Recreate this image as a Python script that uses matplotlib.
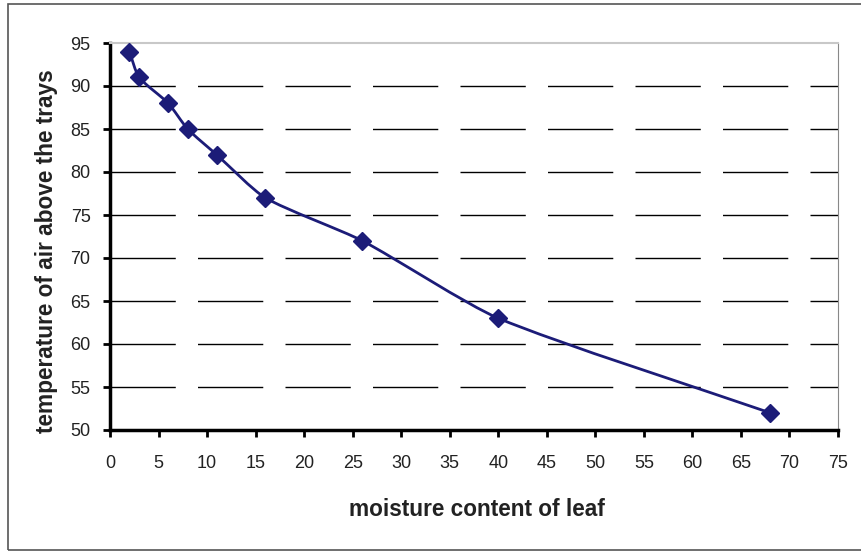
import matplotlib.pyplot as plt
import numpy as np
from matplotlib.path import Path
from matplotlib.patches import PathPatch, Rectangle

plt.rcParams['font.family'] = ['Liberation Sans', 'DejaVu Sans']

moisture = [2, 3, 6, 8, 11, 16, 26, 40, 68]
temperature = [94, 91, 88, 85, 82, 77, 72, 63, 52]
x_ticks = list(range(0, 80, 5))
y_ticks = list(range(50, 100, 5))

line_color = '#1c1c78'


def smooth_path(xs, ys, sx, sy, t=0.22):
    # smoothed line as cubic bezier segments, tangents worked out in pixel space
    p = np.column_stack([np.array(xs) * sx, np.array(ys) * sy])
    n = len(p)
    tang = []
    for i in range(n):
        d = p[min(i + 1, n - 1)] - p[max(i - 1, 0)]
        tang.append(d / np.hypot(*d))
    verts = [p[0]]
    codes = [Path.MOVETO]
    for i in range(n - 1):
        seg = np.hypot(*(p[i + 1] - p[i]))
        verts += [p[i] + tang[i] * seg * t, p[i + 1] - tang[i + 1] * seg * t, p[i + 1]]
        codes += [Path.CURVE4] * 3
    verts = np.array(verts) / [sx, sy]
    return Path(verts, codes)


fig = plt.figure(figsize=(8.61, 5.51), dpi=100)
ax = fig.add_axes([110 / 861, 1 - 430 / 551, 728 / 861, 387 / 551])

# outer chart border
fig.patches.append(Rectangle((8 / 861, 1 / 551), 1.0, 546 / 551, transform=fig.transFigure,
                             fill=False, edgecolor='#555555', linewidth=1.2))

ax.set_xlim(0, 75)
ax.set_ylim(50, 95)
ax.set_xticks(x_ticks)
ax.set_yticks(y_ticks)

for y in y_ticks[1:-1]:
    ax.axhline(y, color='black', linewidth=1.0, dashes=(47, 16), zorder=1)

ax.add_patch(PathPatch(smooth_path(moisture, temperature, 728 / 75, 387 / 45),
                       facecolor='none', edgecolor=line_color, linewidth=2, zorder=3))
ax.plot(moisture, temperature, linestyle='none', marker='D', markersize=9,
        color=line_color, zorder=4, clip_on=False)

ax.spines['left'].set_linewidth(2.5)
ax.spines['bottom'].set_linewidth(2.5)
ax.spines['top'].set_color('#c8c8c8')
ax.spines['top'].set_linewidth(1.5)
ax.spines['right'].set_color('#888888')
ax.spines['right'].set_linestyle((0, (1, 1)))

ax.tick_params(axis='both', which='both', direction='out', length=5, width=2,
               labelsize=13, labelcolor='#222222')
ax.tick_params(axis='x', pad=13)
ax.tick_params(axis='y', pad=9)

fig.text(477 / 861, 1 - 510 / 551, 'moisture content of leaf', fontsize=16.3,
         fontweight='bold', ha='center', va='center', color='#222222')
fig.text(47 / 861, 1 - 251 / 551, 'temperature of air above the trays', fontsize=16.3,
         fontweight='bold', ha='center', va='center', rotation=90, color='#222222')

fig.savefig('out.png', dpi=100)
